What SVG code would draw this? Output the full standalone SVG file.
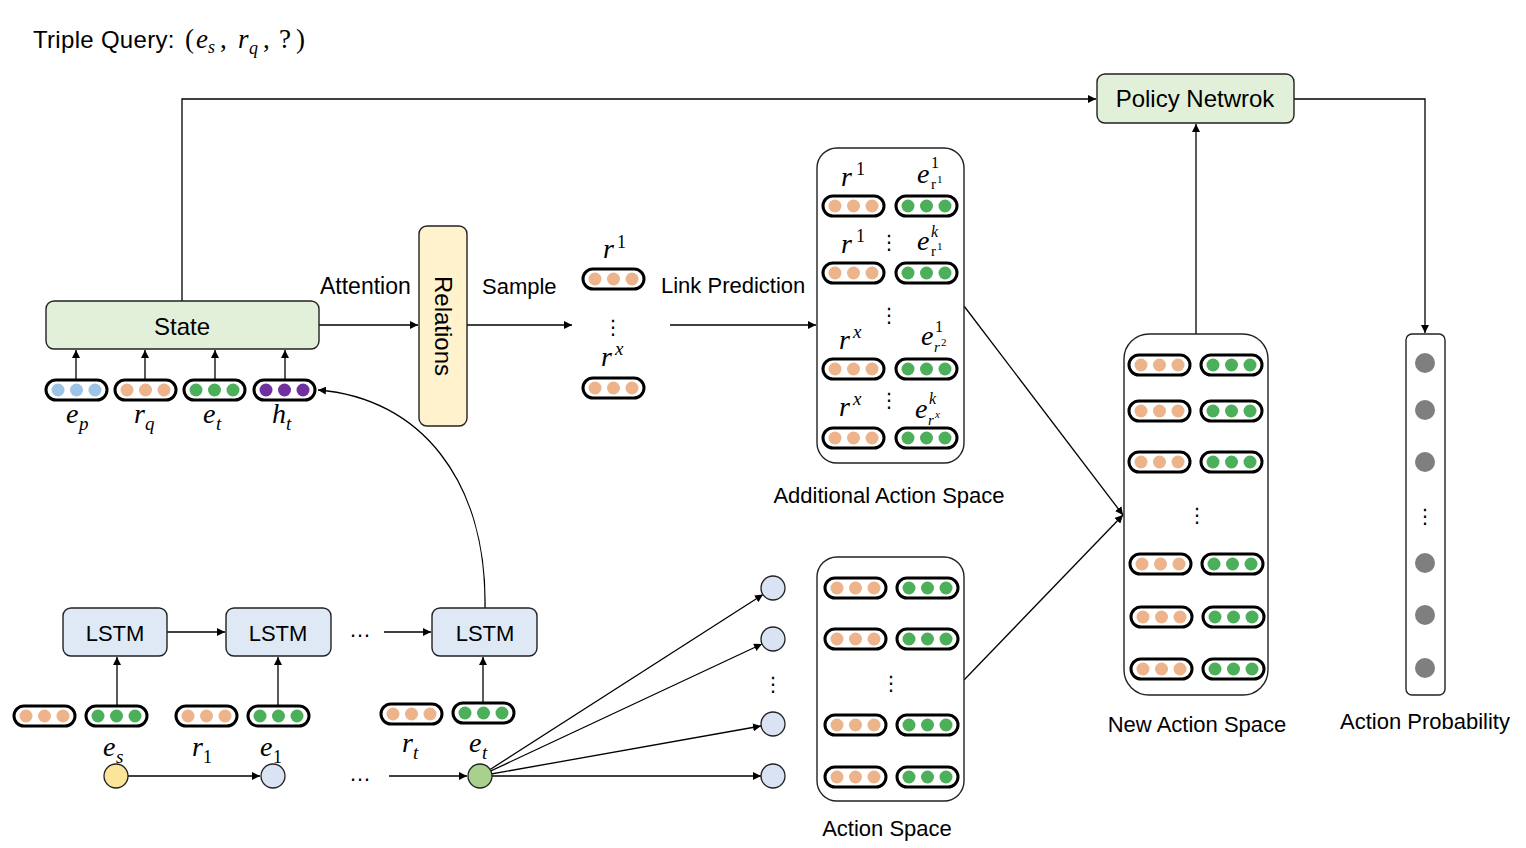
<svg xmlns="http://www.w3.org/2000/svg" xmlns:xlink="http://www.w3.org/1999/xlink" width="1526" height="848" viewBox="0 0 1526 848">
<style>
.t{font-family:"Liberation Sans",Arial,sans-serif;font-size:22px;fill:#000}
.tb{font-size:24px}
.m{font-family:"Liberation Serif","Times New Roman",serif;font-style:italic;font-size:28px;fill:#000}
.ms{font-family:"Liberation Serif","Times New Roman",serif;font-style:italic;font-size:19px}
.mu{font-family:"Liberation Serif","Times New Roman",serif;font-style:normal;font-size:18px}
.vd{font-family:"DejaVu Sans",sans-serif;font-size:20px;fill:#000;text-anchor:middle}
.box{stroke:#222;stroke-width:1.4}
.pill{fill:#fff;stroke:#000;stroke-width:3}
.o{fill:#edb38a}.g{fill:#4caf5a}.b{fill:#9dc3e6}.p{fill:#7030a0}
.ln{fill:none;stroke:#000;stroke-width:1.3}
.nd{stroke:#222;stroke-width:1.3}
.gd{fill:#7f7f7f}
</style>
<defs>
<marker id="ah" viewBox="0 0 10 10" refX="10" refY="5" markerWidth="8" markerHeight="8" markerUnits="userSpaceOnUse" orient="auto"><path d="M0,0 L10,5 L0,10 z" fill="#000"/></marker>
<g id="po"><rect x="0" y="-10" width="61" height="20" rx="10" class="pill"/><circle cx="12" r="6.5" class="o"/><circle cx="30.5" r="6.5" class="o"/><circle cx="49" r="6.5" class="o"/></g>
<g id="pg"><rect x="0" y="-10" width="61" height="20" rx="10" class="pill"/><circle cx="12" r="6.5" class="g"/><circle cx="30.5" r="6.5" class="g"/><circle cx="49" r="6.5" class="g"/></g>
<g id="pb"><rect x="0" y="-10" width="61" height="20" rx="10" class="pill"/><circle cx="12" r="6.5" class="b"/><circle cx="30.5" r="6.5" class="b"/><circle cx="49" r="6.5" class="b"/></g>
<g id="pp"><rect x="0" y="-10" width="61" height="20" rx="10" class="pill"/><circle cx="12" r="6.5" class="p"/><circle cx="30.5" r="6.5" class="p"/><circle cx="49" r="6.5" class="p"/></g>
</defs>
<rect width="1526" height="848" fill="#fff"/>

<g id="title">
<text x="33" y="48" class="t" style="font-size:24px;letter-spacing:0.3px">Triple Query:</text>
<text x="185" y="48" class="mu" style="font-size:27px">(</text>
<text x="196" y="48" class="m" style="font-size:27px">e</text><text x="208" y="53" class="ms" style="font-size:18px">s</text>
<text x="220" y="48" class="mu" style="font-size:27px">,</text>
<text x="238" y="48" class="m" style="font-size:27px">r</text><text x="249" y="54" class="ms" style="font-size:18px">q</text>
<text x="263" y="48" class="mu" style="font-size:27px">,</text>
<text x="279" y="48" class="mu" style="font-size:27px">?</text>
<text x="296" y="48" class="mu" style="font-size:27px">)</text>
</g>

<g id="connectors">
<polyline class="ln" points="182,301 182,99 1096,99" marker-end="url(#ah)"/>
<polyline class="ln" points="1294,99 1425,99 1425,333" marker-end="url(#ah)"/>
<line class="ln" x1="1196" y1="334" x2="1196" y2="124" marker-end="url(#ah)"/>
<line class="ln" x1="76" y1="380" x2="76" y2="350" marker-end="url(#ah)"/>
<line class="ln" x1="145" y1="380" x2="145" y2="350" marker-end="url(#ah)"/>
<line class="ln" x1="215" y1="380" x2="215" y2="350" marker-end="url(#ah)"/>
<line class="ln" x1="285" y1="380" x2="285" y2="350" marker-end="url(#ah)"/>
<line class="ln" x1="319" y1="325" x2="418" y2="325" marker-end="url(#ah)"/>
<line class="ln" x1="467" y1="325" x2="572" y2="325" marker-end="url(#ah)"/>
<line class="ln" x1="670" y1="325" x2="816" y2="325" marker-end="url(#ah)"/>
<line class="ln" x1="964" y1="306" x2="1123" y2="515" marker-end="url(#ah)"/>
<line class="ln" x1="964" y1="680" x2="1123" y2="515" marker-end="url(#ah)"/>
<path class="ln" d="M485,608 C487,480 420,398 318,390" marker-end="url(#ah)"/>
<line class="ln" x1="167" y1="632" x2="225" y2="632" marker-end="url(#ah)"/>
<line class="ln" x1="384" y1="632" x2="431" y2="632" marker-end="url(#ah)"/>
<line class="ln" x1="117" y1="705" x2="117" y2="657" marker-end="url(#ah)"/>
<line class="ln" x1="278" y1="705" x2="278" y2="657" marker-end="url(#ah)"/>
<line class="ln" x1="483" y1="704" x2="483" y2="657" marker-end="url(#ah)"/>
<line class="ln" x1="128" y1="776" x2="260" y2="776" marker-end="url(#ah)"/>
<line class="ln" x1="389" y1="776" x2="467" y2="776" marker-end="url(#ah)"/>
<line class="ln" x1="480" y1="776" x2="763" y2="594.5" marker-end="url(#ah)"/>
<line class="ln" x1="480" y1="776" x2="762" y2="644" marker-end="url(#ah)"/>
<line class="ln" x1="480" y1="776" x2="761" y2="726" marker-end="url(#ah)"/>
<line class="ln" x1="480" y1="776" x2="761" y2="776" marker-end="url(#ah)"/>
</g>

<g id="state">
<rect x="46" y="301" width="273" height="48" rx="8" fill="#e2f0d9" class="box"/>
<text x="182" y="335" class="t tb" text-anchor="middle">State</text>
</g>
<g id="state-inputs">
<use xlink:href="#pb" x="46" y="390"/>
<use xlink:href="#po" x="115" y="390"/>
<use xlink:href="#pg" x="184" y="390"/>
<use xlink:href="#pp" x="254" y="390"/>
<text x="66" y="423" class="m">e</text><text x="79" y="430" class="ms">p</text>
<text x="134" y="423" class="m">r</text><text x="145" y="430" class="ms">q</text>
<text x="203" y="423" class="m">e</text><text x="216" y="430" class="ms">t</text>
<text x="272" y="423" class="m">h</text><text x="286" y="430" class="ms">t</text>
</g>

<g id="policy">
<rect x="1097" y="74" width="197" height="49" rx="8" fill="#e2f0d9" class="box"/>
<text x="1195" y="107" class="t tb" text-anchor="middle">Policy Netwrok</text>
</g>

<g id="relations">
<rect x="419" y="226" width="48" height="200" rx="8" fill="#fff2cc" class="box"/>
<text x="443" y="326" class="t tb" text-anchor="middle" transform="rotate(90 443 326)" dy="8">Relations</text>
</g>

<g id="edge-labels">
<text x="320" y="294" class="t" style="font-size:23px">Attention</text>
<text x="482" y="294" class="t">Sample</text>
<text x="661" y="293" class="t">Link Prediction</text>
</g>

<g id="sampled">
<text x="603" y="258" class="m">r</text><text x="617" y="248" class="mu">1</text>
<use xlink:href="#po" x="583" y="279"/>
<text x="613" y="334" class="vd">⋮</text>
<text x="601" y="366" class="m">r</text><text x="615" y="355" class="ms">x</text>
<use xlink:href="#po" x="583" y="388"/>
</g>

<g id="additional-action-space">
<rect x="817" y="148" width="147" height="315" rx="20" fill="#fff" class="box"/>
<text x="841" y="186" class="m">r</text><text x="856" y="175" class="mu">1</text>
<text x="917" y="183" class="m">e</text><text x="931" y="168" class="mu" style="font-size:16px">1</text><text x="931" y="189" class="mu" style="font-size:15px">r</text><text x="937" y="183" class="mu" style="font-size:11px">1</text>
<use xlink:href="#po" x="823" y="206"/><use xlink:href="#pg" x="896" y="206"/>
<text x="841" y="253" class="m">r</text><text x="856" y="242" class="mu">1</text>
<text x="889" y="249" class="vd">⋮</text>
<text x="917" y="250" class="m">e</text><text x="931" y="237" class="ms" style="font-size:16px">k</text><text x="931" y="256" class="mu" style="font-size:15px">r</text><text x="937" y="250" class="mu" style="font-size:11px">1</text>
<use xlink:href="#po" x="823" y="273"/><use xlink:href="#pg" x="896" y="273"/>
<text x="889" y="322" class="vd">⋮</text>
<text x="839" y="349" class="m">r</text><text x="853" y="338" class="ms">x</text>
<text x="921" y="345" class="m">e</text><text x="935" y="332" class="mu" style="font-size:16px">1</text><text x="934" y="352" class="ms" style="font-size:15px">r</text><text x="941" y="346" class="mu" style="font-size:11px">2</text>
<use xlink:href="#po" x="823" y="369"/><use xlink:href="#pg" x="896" y="369"/>
<text x="839" y="416" class="m">r</text><text x="853" y="405" class="ms">x</text>
<text x="889" y="407" class="vd">⋮</text>
<text x="915" y="418" class="m">e</text><text x="929" y="404" class="ms" style="font-size:16px">k</text><text x="928" y="425" class="ms" style="font-size:15px">r</text><text x="935" y="418" class="ms" style="font-size:11px">x</text>
<use xlink:href="#po" x="823" y="438"/><use xlink:href="#pg" x="896" y="438"/>
<text x="889" y="503" class="t" text-anchor="middle">Additional Action Space</text>
</g>

<g id="new-action-space">
<rect x="1124" y="334" width="144" height="361" rx="25" fill="#fff" class="box"/>
<use xlink:href="#po" x="1129" y="365"/><use xlink:href="#pg" x="1201" y="365"/>
<use xlink:href="#po" x="1129" y="411"/><use xlink:href="#pg" x="1201" y="411"/>
<use xlink:href="#po" x="1129" y="462"/><use xlink:href="#pg" x="1201" y="462"/>
<text x="1197" y="522" class="vd">⋮</text>
<use xlink:href="#po" x="1130" y="564"/><use xlink:href="#pg" x="1202" y="564"/>
<use xlink:href="#po" x="1131" y="617"/><use xlink:href="#pg" x="1203" y="617"/>
<use xlink:href="#po" x="1131" y="669"/><use xlink:href="#pg" x="1203" y="669"/>
<text x="1197" y="732" class="t" text-anchor="middle">New Action Space</text>
</g>

<g id="action-probability">
<rect x="1406" y="334" width="39" height="361" rx="6" fill="#fff" class="box"/>
<circle cx="1425" cy="363" r="10" class="gd"/>
<circle cx="1425" cy="410" r="10" class="gd"/>
<circle cx="1425" cy="462" r="10" class="gd"/>
<text x="1425" y="523" class="vd">⋮</text>
<circle cx="1425" cy="563" r="10" class="gd"/>
<circle cx="1425" cy="615" r="10" class="gd"/>
<circle cx="1425" cy="668" r="10" class="gd"/>
<text x="1425" y="729" class="t" text-anchor="middle">Action Probability</text>
</g>

<g id="lstm1"><rect x="63" y="608" width="104" height="48" rx="8" fill="#dee9f5" class="box"/><text x="115" y="641" class="t" text-anchor="middle">LSTM</text></g>
<g id="lstm2"><rect x="226" y="608" width="105" height="48" rx="8" fill="#dee9f5" class="box"/><text x="278" y="641" class="t" text-anchor="middle">LSTM</text></g>
<g id="lstm3"><rect x="432" y="608" width="105" height="48" rx="8" fill="#dee9f5" class="box"/><text x="485" y="641" class="t" text-anchor="middle">LSTM</text></g>
<text x="360" y="637" class="t" text-anchor="middle">…</text>

<g id="path-inputs">
<use xlink:href="#po" x="14" y="716"/><use xlink:href="#pg" x="86" y="716"/>
<use xlink:href="#po" x="176" y="716"/><use xlink:href="#pg" x="248" y="716"/>
<use xlink:href="#po" x="381" y="714"/><use xlink:href="#pg" x="453" y="713"/>
<text x="103" y="756" class="m">e</text><text x="116" y="763" class="ms">s</text>
<text x="192" y="756" class="m">r</text><text x="203" y="763" class="mu">1</text>
<text x="260" y="756" class="m">e</text><text x="273" y="763" class="mu">1</text>
<text x="402" y="752" class="m">r</text><text x="413" y="759" class="ms">t</text>
<text x="469" y="752" class="m">e</text><text x="482" y="759" class="ms">t</text>
</g>

<g id="es"><circle cx="116" cy="776" r="12" fill="#fde49b" class="nd"/></g>
<g id="e1"><circle cx="273" cy="776" r="12" fill="#dae3f3" class="nd"/></g>
<text x="360" y="781" class="t" text-anchor="middle">…</text>
<g id="et"><circle cx="480" cy="776" r="12" fill="#a9d18e" class="nd"/></g>

<g id="neighbors">
<circle cx="773" cy="588" r="12" fill="#dae3f3" class="nd"/>
<circle cx="773" cy="639" r="12" fill="#dae3f3" class="nd"/>
<text x="773" y="691" class="vd">⋮</text>
<circle cx="773" cy="724" r="12" fill="#dae3f3" class="nd"/>
<circle cx="773" cy="776" r="12" fill="#dae3f3" class="nd"/>
</g>

<g id="action-space">
<rect x="817" y="557" width="147" height="244" rx="20" fill="#fff" class="box"/>
<use xlink:href="#po" x="825" y="588"/><use xlink:href="#pg" x="897" y="588"/>
<use xlink:href="#po" x="825" y="639"/><use xlink:href="#pg" x="897" y="639"/>
<text x="891" y="690" class="vd">⋮</text>
<use xlink:href="#po" x="825" y="725"/><use xlink:href="#pg" x="897" y="725"/>
<use xlink:href="#po" x="825" y="777"/><use xlink:href="#pg" x="897" y="777"/>
<text x="887" y="836" class="t" text-anchor="middle">Action Space</text>
</g>
</svg>
